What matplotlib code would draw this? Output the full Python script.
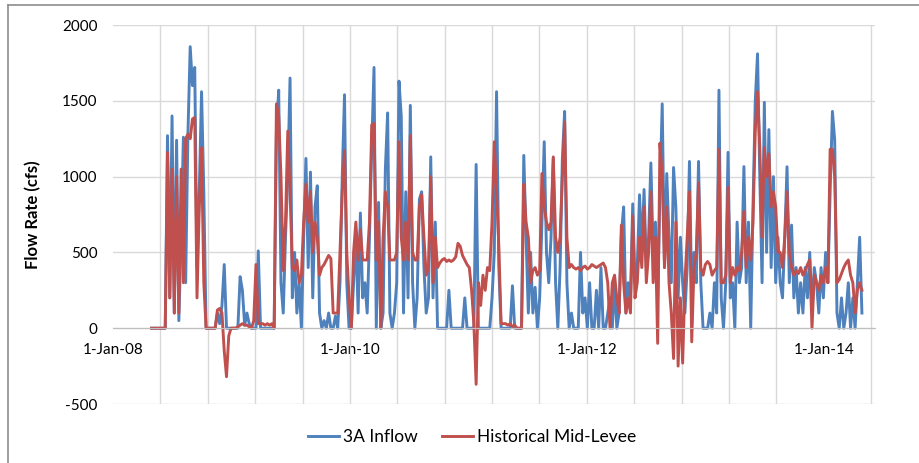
import numpy as np
import pandas as pd
import matplotlib
matplotlib.use('Agg')
import matplotlib.pyplot as plt
import matplotlib.dates as mdates
from matplotlib.lines import Line2D

plt.rcParams['font.family'] = ['Lato', 'DejaVu Sans']
plt.rcParams['axes.unicode_minus'] = False

# weekly values (cfs), first week 29-Apr-2008
start_date = '2008-04-29'

inflow_3a = [
    0, 0, 0, 0, 0, 0, 0, 1270, 200, 1400,
    100, 1240, 50, 600, 1260, 300, 1280, 1857, 1600, 1720,
    400, 900, 1560, 900, 0, 0, 0, 0, 0, 100,
    30, 150, 420, 0, 0, 0, 0, 0, 0, 340,
    250, 20, 100, 30, 0, 0, 0, 510, 0, 0,
    0, 0, 0, 0, 0, 1300, 1570, 300, 100, 600,
    1000, 1650, 200, 500, 100, 300, 0, 600, 1120, 400,
    1030, 200, 800, 940, 100, 0, 50, 0, 100, 0,
    0, 80, 0, 300, 1000, 1540, 300, 0, 0, 300,
    625, 100, 760, 200, 300, 100, 600, 1200, 1720, 0,
    830, 0, 100, 1050, 1420, 100, 0, 100, 300, 1630,
    1400, 100, 900, 200, 1470, 300, 0, 200, 850, 900,
    400, 100, 200, 1130, 200, 700, 0, 0, 0, 0,
    0, 250, 0, 0, 0, 0, 0, 0, 200, 0,
    0, 0, 0, 1080, 0, 0, 0, 0, 0, 0,
    200, 500, 1560, 400, 0, 0, 0, 0, 0, 280,
    0, 0, 0, 0, 1140, 600, 100, 500, 100, 270,
    0, 200, 700, 1230, 500, 300, 600, 1120, 300, 0,
    400, 1120, 1430, 300, 0, 100, 0, 0, 0, 500,
    100, 200, 0, 300, 0, 0, 250, 0, 400, 0,
    0, 100, 200, 0, 300, 0, 100, 620, 800, 100,
    300, 200, 820, 300, 400, 880, 500, 915, 400, 600,
    1090, 500, 700, 200, 900, 1480, 400, 1020, 600, 300,
    1060, 800, 200, 600, 300, 100, 400, 1100, 200, 500,
    300, 1100, 300, 0, 0, 0, 100, 0, 300, 100,
    1570, 200, 0, 300, 1160, 200, 300, 0, 700, 300,
    400, 1066, 300, 700, 0, 800, 1500, 1810, 1000, 300,
    1490, 500, 1310, 400, 1000, 300, 600, 300, 200, 600,
    1065, 300, 680, 200, 400, 100, 300, 100, 400, 200,
    500, 100, 400, 300, 100, 400, 200, 500, 300, 900,
    1430, 1240, 100, 0, 200, 0, 100, 300, 0, 200,
    0, 300, 600, 100,
]

mid_levee = [
    0, 0, 0, 0, 0, 0, 0, 1160, 200, 1050,
    100, 1000, 100, 1050, 300, 1250, 1280, 1250, 1380, 1390,
    200, 800, 1190, 300, 0, 0, 0, 0, 0, 120,
    130, 100, -150, -320, -50, 0, 0, 0, 10, 20,
    30, 20, 20, 10, 0, 50, 420, 30, 30, 30,
    20, 30, 20, 30, 0, 1480, 1400, 1000, 380, 700,
    1300, 900, 400, 380, 450, 300, 350, 700, 950, 700,
    900, 500, 700, 600, 350, 400, 420, 450, 480, 460,
    100, 100, 100, 500, 900, 1170, 500, 200, 0, 500,
    700, 450, 650, 450, 450, 450, 700, 1340, 1350, 450,
    700, 0, 600, 900, 800, 450, 450, 450, 500, 1230,
    600, 450, 700, 450, 1270, 500, 450, 450, 800, 880,
    600, 350, 400, 1000, 300, 600, 400, 430, 450, 460,
    440, 450, 440, 450, 470, 560, 540, 480, 450, 420,
    400, 250, 30, -370, 300, 150, 350, 250, 400, 380,
    700, 1230, 900, 540, 30, 30, 30, 20, 30, 10,
    20, 0, 0, 0, 950, 700, 600, 300, 380, 400,
    350, 380, 1020, 800, 700, 650, 700, 1130, 600, 500,
    600, 1000, 1360, 600, 400, 420, 400, 390, 400, 380,
    400, 410, 390, 400, 420, 410, 400, 410, 420, 430,
    400, 300, 0, 300, 350, 200, 100, 680, 300, 100,
    200, 100, 740, 200, 300, 600, 400, 800, 300, 500,
    900, 300, 600, -100, 1220, 1000, 400, 800, 300, 100,
    -200, 700, -250, 200, -230, 300, 600, 900, -90, 400,
    500, 960, 400, 350, 420, 440, 420, 350, 380, 400,
    1180, 300, 300, 350, 930, 300, 400, 350, 400, 380,
    500, 770, 400, 600, 450, 700, 1300, 1560, 1200, 600,
    1190, 1000, 1150, 800, 900, 800, 500, 500, 400, 600,
    900, 500, 400, 350, 380, 360, 400, 350, 380, 420,
    450, 0, 350, 300, 250, 350, 300, 400, 300, 1180,
    1180, 1000, 300, 320, 360, 400, 430, 450, 350, 300,
    100, 250, 300, 250,
]

label_dates = ['2008-01-01', '2010-01-01', '2012-01-01', '2014-01-01']
label_text = ['1-Jan-08', '1-Jan-10', '1-Jan-12', '1-Jan-14']
y_ticks = [-500, 0, 500, 1000, 1500, 2000]

dates = pd.date_range(start_date, periods=len(inflow_3a), freq='7D')

fig = plt.figure(figsize=(9.19, 4.63), dpi=100)
ax = fig.add_axes([0.123, 0.1274, 0.829, 0.8186])

ax.plot(dates, inflow_3a, color='#4F81BD', lw=2.1, label='3A Inflow')
ax.plot(dates, mid_levee, color='#C0504D', lw=2.1, label='Historical Mid-Levee')

# excel-like date axis: 15 gridline steps between 1-Jan-08 and 1-Jan-14
x0 = mdates.datestr2num('2008-01-01')
step = (mdates.datestr2num('2014-01-01') - x0) / 15
ax.set_xlim(x0, x0 + 2350)
ax.set_ylim(-500, 2000)
ax.set_xticks(x0 + step * np.arange(17), minor=True)
ax.set_xticks(mdates.datestr2num(label_dates))
ax.set_xticklabels(label_text)
ax.set_yticks(y_ticks)

ax.set_axisbelow(True)
ax.grid(True, which='minor', axis='x', color='#D9D9D9', lw=1)
ax.grid(True, which='major', axis='y', color='#D9D9D9', lw=1)

for s in ['top', 'right', 'left']:
    ax.spines[s].set_visible(False)
ax.spines['bottom'].set_position(('data', 0))
ax.spines['bottom'].set_color('#BFBFBF')
ax.tick_params(axis='both', which='both', length=0, labelsize=11)
ax.tick_params(axis='x', pad=11)
ax.tick_params(axis='y', pad=11)

ax.set_ylabel('Flow Rate (cfs)', fontsize=12, fontweight='bold')
ax.yaxis.set_label_coords(-0.094, 0.5)

fig.legend(loc='center', bbox_to_anchor=(472 / 919, 1 - 437 / 463), ncol=2,
           frameon=False, fontsize=12.5, handlelength=1.8, handletextpad=0.2,
           columnspacing=1.4)

# chart border (left and top edges visible)
bx = 8 / 919
by = 1 - 5 / 463
fig.add_artist(Line2D([bx, bx], [0, by], transform=fig.transFigure, color='#8C8C8C', lw=1.2))
fig.add_artist(Line2D([bx, 1], [by, by], transform=fig.transFigure, color='#8C8C8C', lw=1.2))

fig.savefig('out.png', dpi=100)
